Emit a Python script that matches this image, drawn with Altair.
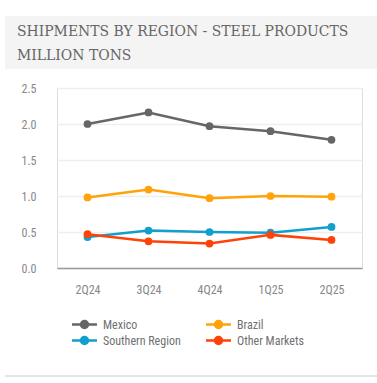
import altair as alt
import pandas as pd

quarters = ["2Q24", "3Q24", "4Q24", "1Q25", "2Q25"]
regions = ["Mexico", "Brazil", "Southern Region", "Other Markets"]
mexico = [2.00, 2.16, 1.97, 1.90, 1.78]
brazil = [0.98, 1.09, 0.97, 1.00, 0.99]
southern = [0.43, 0.52, 0.50, 0.49, 0.57]
other = [0.47, 0.37, 0.34, 0.46, 0.39]
colors = ["#666666", "#ffa308", "#119fcc", "#ff4208"]
y_ticks = [0.0, 0.5, 1.0, 1.5, 2.0, 2.5]

rows = []
for name, vals in zip(regions, [mexico, brazil, southern, other]):
    for q, v in zip(quarters, vals):
        rows.append({"quarter": q, "region": name, "value": v})
df = pd.DataFrame(rows)

LABEL_FONT = "Roboto Condensed, DejaVu Sans Condensed, sans-serif"

color = alt.Color(
    "region:N",
    scale=alt.Scale(domain=regions, range=colors),
    legend=alt.Legend(
        title=None,
        orient="none",
        legendX=20,
        legendY=229,
        direction="horizontal",
        columns=2,
        columnPadding=20,
        rowPadding=-4,
        symbolType="M-2,0H2M-0.56,0A0.56,0.56,0,1,1,0.56,0A0.56,0.56,0,1,1,-0.56,0",
        symbolSize=156,
        symbolStrokeWidth=2.5,
        labelFont=LABEL_FONT,
        labelFontSize=12,
        labelColor="#707070",
        labelOffset=11,
    ),
)

x = alt.X(
    "quarter:N",
    sort=quarters,
    scale=alt.Scale(type="point", padding=0.5),
    axis=alt.Axis(
        title=None, labelAngle=0, ticks=False, grid=False,
        domainColor="#999999", domainWidth=1.5,
        labelFont=LABEL_FONT, labelFontSize=12, labelColor="#888888",
        labelPadding=16,
    ),
)
y = alt.Y(
    "value:Q",
    scale=alt.Scale(domain=[0, 2.5], nice=False),
    axis=alt.Axis(
        title=None, values=y_ticks, format=".1f", ticks=False, domain=False,
        gridColor="#eeeeee", gridWidth=1.5,
        labelFont=LABEL_FONT, labelFontSize=12, labelColor="#888888",
        labelPadding=21,
    ),
)

lines = alt.Chart(df).mark_line(strokeWidth=2.5).encode(x=x, y=y, color=color)
points = alt.Chart(df).mark_point(filled=True, size=60, opacity=1).encode(x=x, y=y, color=color)

box = alt.Chart(pd.DataFrame({"a": [0]})).mark_rect(color="#f4f4f4").encode(
    x=alt.value(-52), x2=alt.value(320), y=alt.value(-72), y2=alt.value(-19)
)
bottom = alt.Chart(pd.DataFrame({"a": [0]})).mark_rule(color="#dddddd", strokeWidth=1.5).encode(
    x=alt.value(-52), x2=alt.value(320), y=alt.value(288)
)

chart = alt.layer(box, bottom, lines, points).properties(
    width=305,
    height=180,
    autosize=alt.AutoSizeParams(type="none"),
    padding={"left": 57, "top": 88, "right": 15, "bottom": 115},
    title=alt.Title(
        text=["SHIPMENTS BY REGION - STEEL PRODUCTS", "MILLION TONS"],
        anchor="start",
        frame="group",
        dx=-40,
        offset=-47,
        baseline="top",
        font="DejaVu Serif Condensed",
        fontSize=15.5,
        fontWeight="normal",
        color="#666666",
        lineHeight=24,
    ),
).configure_view(stroke=None).configure(background="white")

chart.save("out.html", embed_options={"renderer": "svg", "actions": False})
